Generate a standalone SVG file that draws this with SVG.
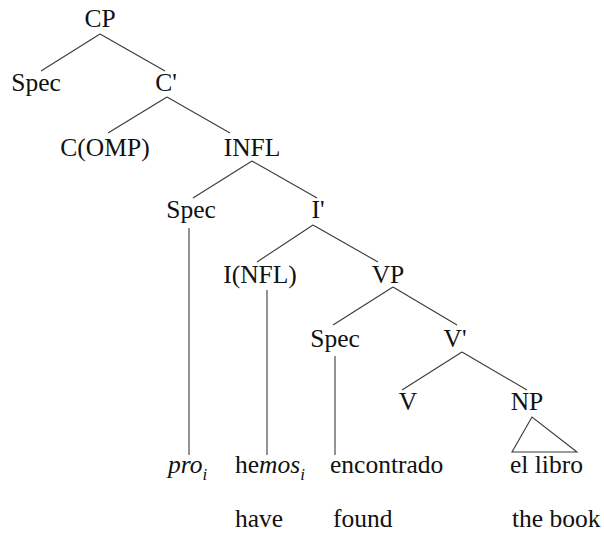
<svg xmlns="http://www.w3.org/2000/svg" width="604" height="533" viewBox="0 0 604 533">
<style>
text{font-family:"Liberation Serif","Times New Roman",serif;font-size:25.5px;fill:#111}
.n{text-anchor:middle}
.it{font-style:italic}
.sub{font-size:17px;font-style:italic}
#edges line,#edges polygon{stroke:#3a3a3a;stroke-width:1.1;fill:none}
</style>
<rect width="604" height="533" fill="#fff"/>
<g id="edges">
<line x1="100" y1="34" x2="41" y2="71"/>
<line x1="100" y1="34" x2="165" y2="71"/>
<line x1="167" y1="97" x2="108" y2="133"/>
<line x1="167" y1="97" x2="230" y2="133"/>
<line x1="252" y1="161" x2="193" y2="198"/>
<line x1="252" y1="161" x2="317" y2="198"/>
<line x1="313" y1="225" x2="257" y2="262"/>
<line x1="313" y1="225" x2="378" y2="262"/>
<line x1="393" y1="287" x2="333" y2="325"/>
<line x1="393" y1="287" x2="457" y2="325"/>
<line x1="462" y1="352" x2="402" y2="390"/>
<line x1="462" y1="352" x2="527" y2="390"/>
<line x1="189" y1="228" x2="189" y2="455"/>
<line x1="267" y1="290" x2="267" y2="455"/>
<line x1="335" y1="356" x2="335" y2="455"/>
<polygon points="532,417 512,452 577,452"/>
</g>
<g id="CP"><text class="n" x="100" y="27">CP</text></g>
<g id="Spec1"><text class="n" x="36" y="91">Spec</text></g>
<g id="Cbar"><text class="n" x="166" y="91">C'</text></g>
<g id="COMP"><text class="n" x="105" y="156">C(OMP)</text></g>
<g id="INFL"><text class="n" x="252" y="156">INFL</text></g>
<g id="Spec2"><text class="n" x="191" y="218">Spec</text></g>
<g id="Ibar"><text class="n" x="318" y="218">I'</text></g>
<g id="I"><text class="n" x="260" y="283">I(NFL)</text></g>
<g id="VP"><text class="n" x="388" y="283">VP</text></g>
<g id="Spec3"><text class="n" x="335" y="347">Spec</text></g>
<g id="Vbar"><text class="n" x="455" y="347">V'</text></g>
<g id="V"><text class="n" x="408" y="410">V</text></g>
<g id="NP"><text class="n" x="527" y="410">NP</text></g>
<g id="pro"><text x="168" y="473"><tspan class="it">pro</tspan><tspan class="sub" dy="7">i</tspan></text></g>
<g id="hemos"><text x="235" y="473">he<tspan class="it">mos</tspan><tspan class="sub" dy="7">i</tspan></text>
<text x="235" y="527">have</text></g>
<g id="encontrado"><text x="330" y="473">encontrado</text>
<text x="333" y="527">found</text></g>
<g id="ellibro"><text x="510" y="473">el libro</text>
<text x="512" y="527">the book</text></g>
</svg>
